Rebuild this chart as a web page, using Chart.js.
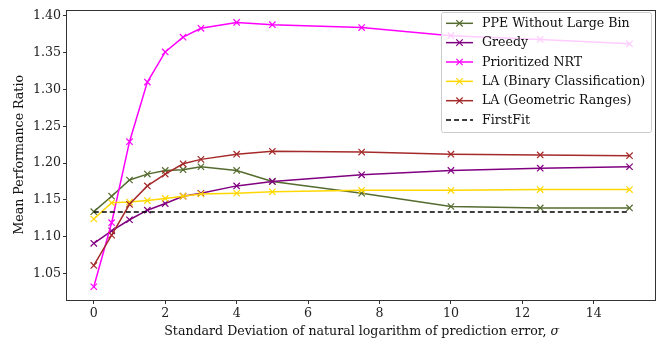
<!DOCTYPE html>
<html>
<head>
<meta charset="utf-8">
<script src="https://cdn.jsdelivr.net/npm/chart.js@4.4.1/dist/chart.umd.min.js"></script>
<style>
  html, body { margin: 0; padding: 0; background: #fff; }
  #wrap { width: 662px; height: 343px; }
</style>
</head>
<body>
<div id="wrap"><canvas id="perfChart" width="662" height="343"></canvas></div>
<script>
// ==================== DATA ====================
const sigmaValues = [0, 0.5, 1, 1.5, 2, 2.5, 3, 4, 5, 7.5, 10, 12.5, 15];
const ppeWithoutLargeBin = [1.134, 1.155, 1.177, 1.185, 1.190, 1.191, 1.195, 1.190, 1.175, 1.159, 1.141, 1.139, 1.139];
const greedy = [1.091, 1.108, 1.123, 1.136, 1.145, 1.155, 1.159, 1.169, 1.175, 1.184, 1.190, 1.193, 1.195];
const prioritizedNRT = [1.032, 1.119, 1.229, 1.310, 1.351, 1.371, 1.383, 1.391, 1.388, 1.384, 1.373, 1.368, 1.362];
const laBinary = [1.124, 1.146, 1.147, 1.149, 1.152, 1.155, 1.158, 1.159, 1.161, 1.163, 1.163, 1.164, 1.164];
const laGeometric = [1.061, 1.102, 1.144, 1.169, 1.185, 1.199, 1.205, 1.212, 1.216, 1.215, 1.212, 1.211, 1.210];
const firstFit = [1.1335, 1.1335, 1.1335, 1.1335, 1.1335, 1.1335, 1.1335, 1.1335, 1.1335, 1.1335, 1.1335, 1.1335, 1.1335];

const seriesLabels = ["PPE Without Large Bin", "Greedy", "Prioritized NRT", "LA (Binary Classification)", "LA (Geometric Ranges)", "FirstFit"];
const xTicks = [0, 2, 4, 6, 8, 10, 12, 14];
const yTicks = [1.05, 1.10, 1.15, 1.20, 1.25, 1.30, 1.35, 1.40];
const xTitle = "Standard Deviation of natural logarithm of prediction error, ";
const xTitleSymbol = "σ";

// ==================== STYLE ====================
const FONT = "'DejaVu Serif', serif";
const FS = 12.6;
const colors = ["#556B2F", "#800080", "#FF00FF", "#FFD700", "#A52A2A", "#000000"];
const allSeries = [ppeWithoutLargeBin, greedy, prioritizedNRT, laBinary, laGeometric, firstFit];

const datasets = allSeries.map((vals, i) => {
  const dashed = i === 5;
  return {
    label: seriesLabels[i],
    data: vals.map((v, j) => ({ x: sigmaValues[j], y: v })),
    borderColor: colors[i],
    backgroundColor: colors[i],
    borderWidth: 1.5,
    borderDash: dashed ? [5, 3] : [],
    pointStyle: "crossRot",
    pointRadius: dashed ? 0 : 4.5,
    pointBorderWidth: 1.2,
    pointBorderColor: colors[i],
    tension: 0,
    order: allSeries.length - i
  };
});

// frame around plot area + x title with italic sigma
const framePlugin = {
  id: "frame",
  afterDatasetsDraw(chart) {
    const { ctx, chartArea: a } = chart;
    ctx.save();
    ctx.strokeStyle = "#333";
    ctx.lineWidth = 1;
    ctx.strokeRect(Math.round(a.left) - 0.5, Math.round(a.top) + 0.5, Math.round(a.right - a.left), Math.round(a.bottom - a.top));

    ctx.fillStyle = "#111";
    ctx.textBaseline = "middle";
    ctx.font = FS + "px " + FONT;
    const w1 = ctx.measureText(xTitle).width;
    ctx.font = "italic " + FS + "px " + FONT;
    const w2 = ctx.measureText(xTitleSymbol).width;
    const x0 = (a.left + a.right) / 2 - (w1 + w2) / 2;
    const y0 = 331.5;
    ctx.font = FS + "px " + FONT;
    ctx.fillText(xTitle, x0, y0);
    ctx.font = "italic " + FS + "px " + FONT;
    ctx.fillText(xTitleSymbol, x0 + w1, y0);
    ctx.restore();
  }
};

// matplotlib-like legend inside the axes, top right
const legendPlugin = {
  id: "innerLegend",
  afterDraw(chart) {
    const ctx = chart.ctx;
    const bx = 441.5, by = 12.5, bw = 210, bh = 120;
    ctx.save();
    ctx.fillStyle = "rgba(255,255,255,0.8)";
    ctx.strokeStyle = "#cccccc";
    ctx.lineWidth = 1;
    ctx.beginPath();
    ctx.roundRect(bx, by, bw, bh, 2);
    ctx.fill();
    ctx.stroke();
    ctx.font = FS + "px " + FONT;
    ctx.textBaseline = "middle";
    chart.data.datasets.forEach((ds, i) => {
      const y = 23.3 + i * 19.35;
      ctx.strokeStyle = ds.borderColor;
      ctx.lineWidth = 1.5;
      ctx.setLineDash(ds.borderDash);
      ctx.beginPath();
      ctx.moveTo(446, y);
      ctx.lineTo(473, y);
      ctx.stroke();
      ctx.setLineDash([]);
      if (ds.pointRadius > 0) {
        const r = 3.2;
        ctx.lineWidth = 1.2;
        ctx.beginPath();
        ctx.moveTo(459.5 - r, y - r); ctx.lineTo(459.5 + r, y + r);
        ctx.moveTo(459.5 - r, y + r); ctx.lineTo(459.5 + r, y - r);
        ctx.stroke();
      }
      ctx.fillStyle = "#111";
      ctx.fillText(ds.label, 482, y + 0.5);
    });
    ctx.restore();
  }
};

// ==================== CHART ====================
const ctx = document.getElementById("perfChart").getContext("2d");
new Chart(ctx, {
  type: "line",
  data: { datasets },
  options: {
    responsive: false,
    animation: false,
    layout: { padding: { left: 0, right: 4, top: 7, bottom: 0 } },
    plugins: {
      legend: { display: false },
      tooltip: { enabled: false }
    },
    scales: {
      x: {
        type: "linear",
        min: -0.75,
        max: 15.75,
        afterFit: s => { s.height = 43; },
        afterBuildTicks: s => { s.ticks = xTicks.map(v => ({ value: v })); },
        border: { display: false },
        grid: { drawOnChartArea: false, drawTicks: true, tickLength: 4, color: "#333" },
        ticks: {
          color: "#222",
          padding: 2,
          maxRotation: 0,
          font: { family: FONT, size: FS },
          callback: v => String(v)
        },
        title: { display: false }
      },
      y: {
        min: 1.014,
        max: 1.4085,
        afterFit: s => { s.width = 67; },
        afterBuildTicks: s => { s.ticks = yTicks.map(v => ({ value: v })); },
        border: { display: false },
        grid: { drawOnChartArea: false, drawTicks: true, tickLength: 4, color: "#333" },
        ticks: {
          color: "#222",
          padding: 2,
          font: { family: FONT, size: FS },
          callback: v => v.toFixed(2)
        },
        title: {
          display: true,
          text: "Mean Performance Ratio",
          color: "#111",
          font: { family: FONT, size: FS },
          padding: { top: 12.5, bottom: 0 }
        }
      }
    }
  },
  plugins: [framePlugin, legendPlugin]
});
</script>
</body>
</html>
